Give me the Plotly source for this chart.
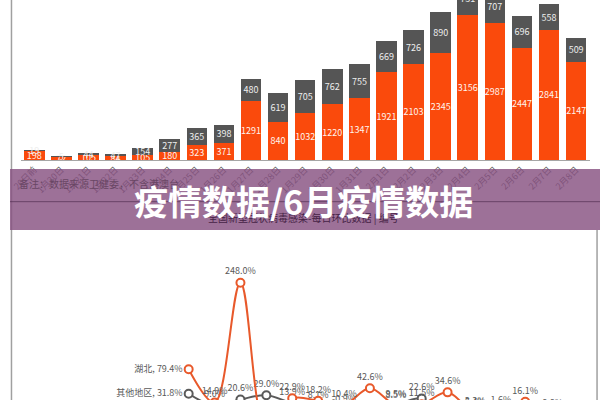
import plotly.graph_objects as go

# ---- Top chart data (daily new confirmed cases) ----
categories = ["20日前", "1月20日", "1月21日", "1月22日", "1月23日", "1月24日", "1月25日",
              "1月26日", "1月27日", "1月28日", "1月29日", "1月30日", "1月31日", "2月1日",
              "2月2日", "2月3日", "2月4日", "2月5日", "2月6日", "2月7日", "2月8日"]
hubei_new = [198, 72, 105, 84, 105, 180, 323, 371, 1291, 840, 1032, 1220, 1347, 1921,
             2103, 2345, 3156, 2987, 2447, 2841, 2147]
other_new = [19, 5, 44, 47, 154, 277, 365, 398, 480, 619, 705, 762, 755, 669,
             726, 890, 731, 707, 696, 558, 509]

# ---- Bottom chart data (day-over-day growth, %) ----
rate_dates = ["1月25日", "1月26日", "1月27日", "1月28日", "1月29日", "1月30日", "1月31日",
              "2月1日", "2月2日", "2月3日", "2月4日", "2月5日", "2月6日", "2月7日", "2月8日"]
hubei_rate = [79.4, 14.9, 248.0, -34.9, 22.9, 18.2, 10.4, 42.6, 9.5, 11.5, 34.6, -5.4, -18.1, 16.1, -24.4]
other_rate = [31.8, 9.0, 20.6, 29.0, 13.9, 8.1, -0.9, -11.4, 8.5, 22.6, -17.9, -3.3, -1.6, -19.8, -8.8]

ORANGE_BAR = "#FA4A0C"
GRAY_BAR = "#555555"
ORANGE_LINE = "#E8592B"
GRAY_LINE = "#5A5A5A"
FONT = "Noto Sans CJK SC"

fig = go.Figure()

fig.add_trace(go.Bar(
    x=categories, y=hubei_new, marker_color=ORANGE_BAR, marker_line_width=0,
    text=[str(v) for v in hubei_new], textposition="inside", insidetextanchor="middle",
    textangle=0, constraintext="none",
    textfont=dict(color="#fff4ee", size=9, family=FONT), xaxis="x", yaxis="y",
    cliponaxis=True, hoverinfo="skip"))
fig.add_trace(go.Bar(
    x=categories, y=other_new, marker_color=GRAY_BAR, marker_line_width=0,
    text=[str(v) for v in other_new], textposition="inside", insidetextanchor="middle",
    textangle=0, constraintext="none",
    textfont=dict(color="#eeeeee", size=9, family=FONT), xaxis="x", yaxis="y",
    cliponaxis=True, hoverinfo="skip"))

def labels(name, vals):
    out = []
    for i, v in enumerate(vals):
        s = f"{v:.1f}%"
        out.append(f"{name}, {s}" if i == 0 else s)
    return out

pos = ["middle left"] + ["top center"] * (len(rate_dates) - 1)

fig.add_trace(go.Scatter(
    x=rate_dates, y=other_rate, mode="lines+markers+text", line=dict(color=GRAY_LINE, width=2, shape="spline"),
    marker=dict(symbol="circle", size=8, color="white", line=dict(color=GRAY_LINE, width=2)),
    text=labels("其他地区", other_rate), textposition=pos,
    textfont=dict(color="#595959", size=9, family=FONT), xaxis="x2", yaxis="y2",
    cliponaxis=True, hoverinfo="skip"))
fig.add_trace(go.Scatter(
    x=rate_dates, y=hubei_rate, mode="lines+markers+text", line=dict(color=ORANGE_LINE, width=2, shape="spline"),
    marker=dict(symbol="circle", size=8, color="white", line=dict(color=ORANGE_LINE, width=2)),
    text=labels("湖北", hubei_rate), textposition=pos,
    textfont=dict(color="#595959", size=9, family=FONT), xaxis="x2", yaxis="y2",
    cliponaxis=True, hoverinfo="skip"))

fig.update_layout(
    width=600, height=400, margin=dict(l=0, r=0, t=0, b=0),
    paper_bgcolor="white", plot_bgcolor="rgba(0,0,0,0)",
    barmode="stack", bargap=0.24, showlegend=False,
    uniformtext=dict(mode="show", minsize=9),
    font=dict(family=FONT),
    xaxis=dict(domain=[0.0182, 0.9825], anchor="y", type="category", tickangle=-45,
               tickfont=dict(size=9, color="#595959", family=FONT), showline=True,
               linecolor="#a6a6a6", linewidth=1, ticks="", showgrid=False, zeroline=False),
    yaxis=dict(domain=[0.6, 1.0], anchor="x", range=[0, 3493], visible=False),
    xaxis2=dict(domain=[0, 1], anchor="y2", type="category", range=[-6.901, 15.887], visible=False),
    yaxis2=dict(domain=[0, 0.3875], anchor="x2", range=[19.7, 321.4], visible=False),
    shapes=[
        dict(type="line", xref="paper", yref="paper", x0=0.0025, x1=0.0025, y0=0, y1=1,
             line=dict(color="#a0a0a0", width=1.5), layer="below"),
        dict(type="line", xref="paper", yref="paper", x0=0.995, x1=0.995, y0=0, y1=0.425,
             line=dict(color="#a0a0a0", width=1.5), layer="below"),
        dict(type="rect", xref="paper", yref="paper", x0=0, x1=1, y0=0.425, y1=0.5775,
             fillcolor="rgba(135,82,129,0.82)", line=dict(width=0), layer="above"),
        dict(type="line", xref="paper", yref="paper", x0=0, x1=1, y0=0.4958, y1=0.4958,
             line=dict(color="rgba(70,35,70,0.6)", width=1), layer="above"),
    ],
    annotations=[
        dict(text="备注：数据来源卫健委，不含港澳台", xref="paper", yref="paper",
             x=0.012, y=(400 - 183) / 400, xanchor="left", yanchor="middle", showarrow=False,
             font=dict(size=10, color="rgb(105,70,100)", family=FONT)),
        dict(text="全国新型冠状病毒感染-每日环比数据 | 编号", xref="paper", yref="paper",
             x=0.498, y=(400 - 217) / 400, xanchor="center", yanchor="middle", showarrow=False,
             font=dict(size=10, color="rgb(70,35,70)", family=FONT)),
        dict(text="<b>疫情数据/6月疫情数据</b>", xref="paper", yref="paper",
             x=0.498, y=0.5, xanchor="center", yanchor="middle", showarrow=False,
             font=dict(size=34, color="white", family=FONT)),
    ],
)

fig.write_html("out.html")
